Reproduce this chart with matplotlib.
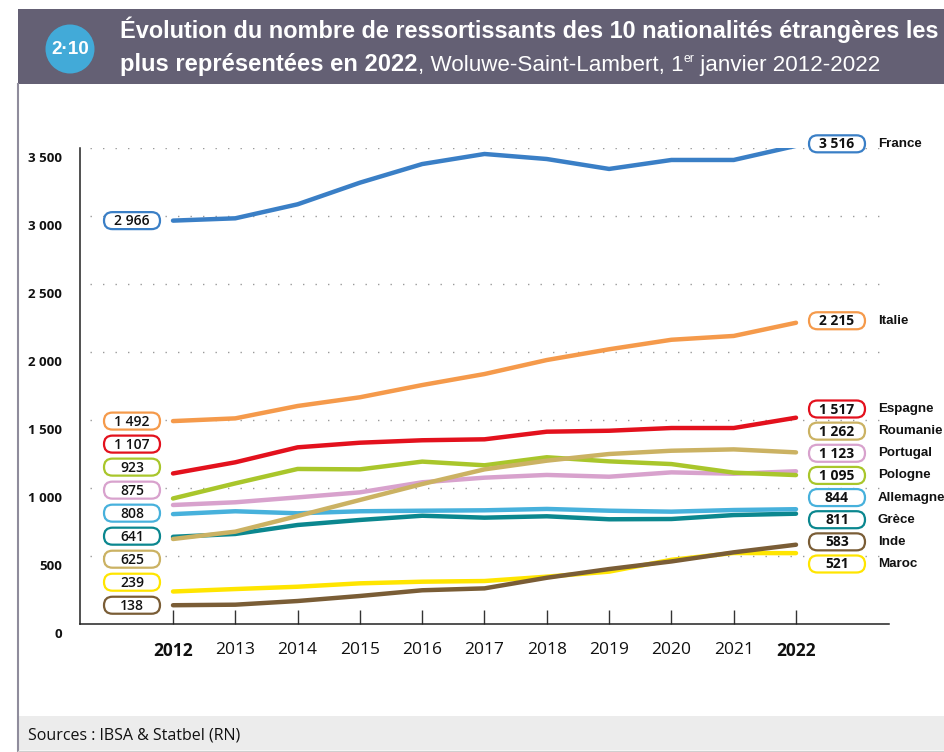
import matplotlib.pyplot as plt
import numpy as np
from matplotlib.patches import FancyBboxPatch, Circle, Rectangle
from matplotlib.transforms import ScaledTranslation

# data (1er janvier, Woluwe-Saint-Lambert)
years = list(range(2012, 2023))
france = [2966, 2983, 3086, 3245, 3382, 3456, 3419, 3346, 3412, 3412, 3516]
italie = [1492, 1512, 1603, 1667, 1757, 1838, 1941, 2020, 2090, 2118, 2215]
espagne = [1107, 1189, 1299, 1333, 1351, 1358, 1414, 1421, 1441, 1441, 1517]
roumanie = [625, 679, 794, 912, 1029, 1137, 1201, 1250, 1274, 1284, 1262]
portugal = [875, 895, 931, 968, 1042, 1076, 1096, 1083, 1115, 1105, 1123]
pologne = [923, 1034, 1140, 1137, 1194, 1167, 1226, 1196, 1176, 1113, 1095]
allemagne = [808, 829, 814, 829, 833, 836, 846, 833, 826, 838, 844]
grece = [641, 662, 728, 765, 796, 782, 792, 770, 772, 801, 811]
inde = [138, 142, 169, 206, 248, 262, 340, 404, 460, 527, 583]
maroc = [239, 257, 274, 299, 311, 316, 348, 385, 472, 522, 521]

series = {
    "France": (france, "#3a7fc6"),
    "Italie": (italie, "#f59a4b"),
    "Espagne": (espagne, "#e3111d"),
    "Roumanie": (roumanie, "#cbb263"),
    "Portugal": (portugal, "#d8a2cd"),
    "Pologne": (pologne, "#a9c62b"),
    "Allemagne": (allemagne, "#47b1dc"),
    "Grèce": (grece, "#0b878f"),
    "Inde": (inde, "#7a5d36"),
    "Maroc": (maroc, "#ffe500"),
}
draw_order = ["Maroc", "Inde", "Grèce", "Allemagne", "Portugal", "Pologne",
              "Roumanie", "Espagne", "Italie", "France"]
left_stack = ["Italie", "Espagne", "Pologne", "Portugal", "Allemagne",
              "Grèce", "Roumanie", "Maroc", "Inde"]
right_stack = ["Espagne", "Roumanie", "Portugal", "Pologne", "Allemagne",
               "Grèce", "Inde", "Maroc"]
yticks = [0, 500, 1000, 1500, 2000, 2500, 3000, 3500]

COND = ["DejaVu Sans Condensed", "Liberation Sans Narrow", "Liberation Sans",
        "DejaVu Sans"]
HUM = ["Open Sans", "DejaVu Sans"]
plt.rcParams["font.family"] = HUM


def fmt(v):
    return f"{v:,}".replace(",", " ")


W, H = 945, 752
fig = plt.figure(figsize=(W / 100, H / 100), dpi=100)
r = fig.canvas.get_renderer()


def fit(t, width):
    # scale a text so that it covers the wanted width in pixels
    w = t.get_window_extent(r).width
    t.set_fontsize(t.get_fontsize() * width / w)
    return t.get_fontsize()


# background furniture in pixel coords
bg = fig.add_axes([0, 0, 1, 1], zorder=0)
bg.set_xlim(0, W)
bg.set_ylim(H, 0)
bg.axis("off")
bg.add_patch(Rectangle((18, 9), W - 18, 75, color="#646074", lw=0))
bg.add_patch(Rectangle((18, 716), W - 18, 34, color="#ececec", lw=0))
bg.plot([18, 18], [84, 751], color="#8f8c9c", lw=1.5)
bg.plot([18, W], [750.5, 750.5], color="#cfcfcf", lw=1)

# main chart
ax = fig.add_axes([80 / W, 1 - 624 / H, 809 / W, 476 / H], zorder=1)
ax.patch.set_alpha(0)
x0 = 2012 - 93 / 62.3
x1 = 2012 + 716 / 62.3
ax.set_xlim(x0, x1)
ax.set_ylim(0, 3500)
for s in ["top", "right"]:
    ax.spines[s].set_visible(False)
for s in ["left", "bottom"]:
    ax.spines[s].set_color("#222222")
    ax.spines[s].set_linewidth(1.1)

for v in yticks[1:]:
    ax.axhline(v, xmin=10 / 809, xmax=807 / 809, color="#9a9a9a",
               lw=1, ls=(0, (1, 8)), zorder=1)

ax.set_xticks(years)
ax.set_xticklabels([str(y) for y in years], fontsize=12.5, color="#111111")
ax.get_xticklabels()[0].set_fontweight("bold")
ax.get_xticklabels()[-1].set_fontweight("bold")
ax.tick_params(axis="x", direction="in", length=10, width=1,
               color="#333333", pad=13)

ax.set_yticks(yticks)
ax.set_yticklabels([fmt(v) for v in yticks], fontsize=9.5, fontweight="bold",
                   color="#111111")
ax.tick_params(axis="y", length=0, pad=13)
shift = ScaledTranslation(0, -9 / 100, fig.dpi_scale_trans)
for lab in ax.get_yticklabels():
    lab.set_transform(lab.get_transform() + shift)

for name in draw_order:
    vals, col = series[name]
    ax.plot(years, vals, color=col, lw=3.2, solid_capstyle="round",
            solid_joinstyle="round", zorder=3)

# foreground: value pills and names
fg = fig.add_axes([0, 0, 1, 1], zorder=3)
fg.set_xlim(0, W)
fg.set_ylim(H, 0)
fg.axis("off")


def to_px(x, y):
    dx, dy = ax.transData.transform((x, y))
    return dx, H - dy


def pill(cx, cy, col, text, weight):
    bw, bh = 56, 17
    fg.add_patch(FancyBboxPatch((cx - bw / 2, cy - bh / 2), bw, bh,
                                boxstyle="round,pad=0,rounding_size=8.5",
                                fc="white", ec=col, lw=1.6))
    fg.text(cx, cy + 0.5, text, ha="center", va="center", fontsize=10,
            fontweight=weight, color="#111111")


def country(py, name):
    fg.text(878, py, name, ha="left", va="center", fontsize=9.6,
            fontweight="bold", family=COND, color="#111111")


# left column
lx, ly = to_px(2012 - 41 / 62.3, france[0])
pill(lx, ly, series["France"][1], fmt(france[0]), "semibold")
top = to_px(2012, italie[0])[1]
bot = to_px(2012, inde[0])[1]
for name, py in zip(left_stack, np.linspace(top, bot, len(left_stack))):
    vals, col = series[name]
    pill(lx, py, col, fmt(vals[0]), "semibold")

# right column
rx = to_px(2022 + 41 / 62.3, 0)[0]
for name in ["France", "Italie"]:
    vals, col = series[name]
    py = to_px(2022, vals[-1])[1] - 2
    pill(rx, py, col, fmt(vals[-1]), "bold")
    country(py, name)
for name, py in zip(right_stack, np.linspace(409, 564, len(right_stack))):
    vals, col = series[name]
    pill(rx, py, col, fmt(vals[-1]), "bold")
    country(py, name)

# header
fg.add_patch(Circle((70, 49), 24.5, color="#42aad8", lw=0))
badge = fg.text(70, 50, "2·10", ha="center", va="center", color="white",
                fontsize=15, fontweight="bold", family=COND)
fit(badge, 38)
t1 = fg.text(120, 38, "Évolution du nombre de ressortissants des 10 "
             "nationalités étrangères les", ha="left", va="baseline",
             color="white", fontsize=18, fontweight="bold", family=COND)
fit(t1, 818)

tb = fg.text(120, 71, "plus représentées en 2022", ha="left",
             va="baseline", color="white", fontsize=t1.get_fontsize(),
             fontweight="bold", family=COND)
fit(tb, 298)
xx = tb.get_window_extent(r).x1
reg = [(", Woluwe-Saint-Lambert, 1", 1.0, 71),
       ("er", 0.55, 62),
       (" janvier 2012-2022", 1.0, 71)]
parts = []
for txt, k, base in reg:
    t = fg.text(xx, base, txt, ha="left", va="baseline", color="white",
                fontsize=17 * k, family=COND)
    parts.append((t, k))
    xx = t.get_window_extent(r).x1
# scale the regular part so the line ends where the reference ends
start = parts[0][0].get_window_extent(r).x0
scale = (878 - start) / (xx - start)
xx = start
for t, k in parts:
    t.set_fontsize(17 * k * scale)
    t.set_x(xx)
    xx = t.get_window_extent(r).x1

# source
fg.text(28, 735, "Sources : IBSA & Statbel (RN)", ha="left", va="center",
        fontsize=11.5, color="#111111")

fig.savefig("out.png", dpi=100)
